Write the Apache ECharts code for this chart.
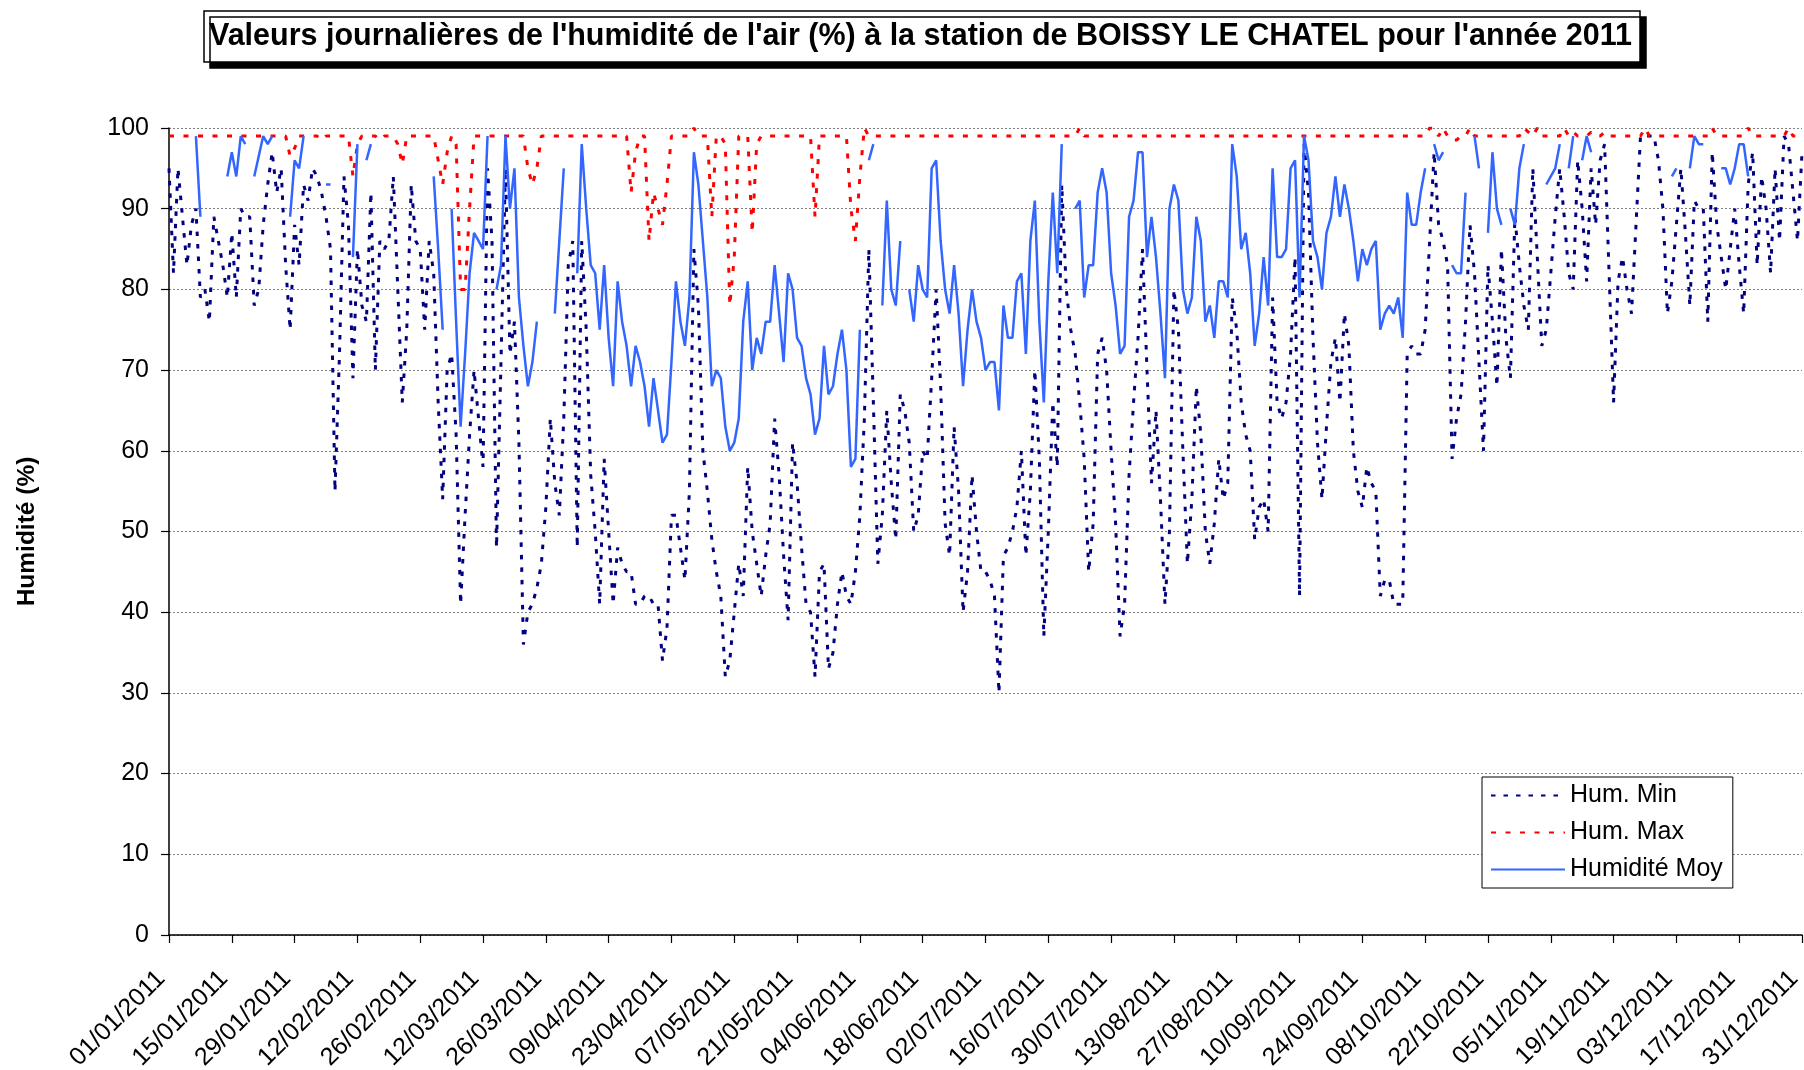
<!DOCTYPE html>
<html>
<head>
<meta charset="utf-8">
<script src="https://cdn.jsdelivr.net/npm/echarts@6/dist/echarts.min.js"></script>
<style>
html,body{margin:0;padding:0;background:#fff;overflow:hidden;}
#chart{width:1804px;height:1070px;}
</style>
</head>
<body>
<div id="chart"></div>
<script>
var n = null;
var titleText = "Valeurs journalières de l'humidité de l'air (%) à la station de BOISSY LE CHATEL pour l'année 2011";
var seriesNames = ['Hum. Min', 'Hum. Max', 'Humidité Moy'];
var tickLabels = ['01/01/2011','15/01/2011','29/01/2011','12/02/2011','26/02/2011','12/03/2011','26/03/2011','09/04/2011','23/04/2011','07/05/2011','21/05/2011','04/06/2011','18/06/2011','02/07/2011','16/07/2011','30/07/2011','13/08/2011','27/08/2011','10/09/2011','24/09/2011','08/10/2011','22/10/2011','05/11/2011','19/11/2011','03/12/2011','17/12/2011','31/12/2011'];

var humMin = [
95,82,95,89,83,88,90,79,80,76,
89,86,83,79,87,79,90,89,89,78,
80,88,93,97,92,95,83,75,88,83,
93,91,95,94,92,89,85,55,72,94,
88,69,85,78,76,92,70,86,85,86,
94,80,66,75,93,86,85,75,86,82,
66,54,70,72,62,41,52,62,70,64,
58,95,86,48,71,95,72,76,61,36,
40,41,43,46,53,64,56,52,64,83,
86,48,86,75,57,50,41,59,50,41,
48,46,45,45,41,41,42,42,41,41,
34,38,52,52,48,44,55,85,78,60,
55,49,45,42,32,34,40,46,42,58,
50,46,42,47,51,64,57,47,39,61,
56,48,41,40,32,45,46,33,35,41,
45,42,41,45,52,64,85,66,46,52,
65,56,49,67,65,61,50,52,60,59,
69,80,68,51,47,63,55,40,45,57,
50,45,45,44,42,30,47,48,50,53,
60,47,55,70,59,37,50,66,58,93,
80,75,72,66,59,45,51,72,74,70,
60,51,37,41,57,66,74,85,70,56,
65,54,41,50,80,75,60,46,54,68,
62,50,46,51,59,54,56,79,75,66,
62,60,49,53,54,50,79,66,64,66,
72,84,42,98,92,74,61,54,63,71,
74,66,77,73,60,55,53,58,56,55,
42,44,44,41,41,41,72,73,72,72,
75,86,97,88,86,83,59,64,67,76,
88,82,71,60,83,76,68,85,74,69,
89,83,78,75,95,84,73,75,82,89,
95,89,82,80,96,90,81,95,88,96,
98,82,66,81,84,80,77,88,99,99,
99,99,96,90,77,81,88,95,87,78,
91,90,90,76,97,88,84,80,85,90,
83,77,93,97,83,94,90,82,95,86,
99,98,92,86,97
];

var humMax = [
99,99,99,99,99,99,99,99,99,99,
99,99,99,99,99,99,99,99,99,99,
99,99,99,99,99,99,99,96.5,97.5,99,
99,99,99,99,98.5,99,99,99,99,99,
99,94,98,99,99,99,99,98.5,99,99,
99,98,95.5,99,99,99,99,99,99,99,
96,93,97,99,98,80,80,90,99,99,
99,99,99,99,99,99,99,99,99,99,
95,93,95,99,99,99,99,99,99,99,
99,99,99,99,99,99,99,99,99,99,
99,99,99,92,97,99,99,86,92,90,
88,93,99,99,99,99,99,100,99,99,
99,89,99,99,98,78,84,99,99,99,
87,98,99,99,99,99,99,99,99,99,
99,99,99,99,89,99,99,99,99,99,
99,99,90,86,94,100,99,99,99,99,
99,99,99,99,99,99,99,99,99,99,
99,99,99,99,99,99,99,99,99,99,
99,99,99,99,99,99,99,99,99,99,
99,99,99,99,99,99,99,99,99,99,
99,99,99,100,99,99,99,99,99,99,
99,99,99,99,99,99,99,99,99,99,
99,99,99,99,99,99,99,99,99,99,
99,99,99,99,99,99,99,99,99,99,
99,99,99,99,99,99,99,99,99,99,
99,99,99,99,99,99,99,99,99,99,
99,99,99,99,99,99,99,99,99,99,
99,99,99,99,99,99,99,99,99,99,
99,100,100,99,100,99,98.5,98.5,99,99,
100,99,99,99,99,99,99,99,99,99,
99,99,100,99.5,99,100,99,99,99,99,
99,100,99,99.5,99,99,99,99.5,99,99,
99.5,99,99,99,99,99,99,99,99,100,
99,99,99,99,99,99,99,99,99,99,
99,99,99,99,100,99,99,99,99,99,
99,99,100,99,99,99,99,99,99,99,
99,100,99,99,99
];

var humMoy = [
n,n,n,n,n,n,99,89,n,n,
n,n,n,94,97,94,99,98,n,94,
96.5,99,98,99,n,n,n,89,96,95,
99,n,n,n,n,93,93,n,n,n,
n,84,98,n,96,98,n,n,n,n,
n,n,n,n,n,n,n,n,n,94,
85,75,n,90,76,63,72,82,87,86,
85,99,n,80,83,99,90,95,79,73,
68,71,76,n,n,n,77,86,95,n,
n,82,98,90,83,82,75,83,74,68,
81,76,73,68,73,71,68,63,69,65,
61,62,71,81,76,73,79,97,93,86,
79,68,70,69,63,60,61,64,76,81,
70,74,72,76,76,83,77,71,82,80,
74,73,69,67,62,64,73,67,68,72,
75,70,58,59,75,n,96,98,n,78,
91,80,78,86,n,80,76,83,80,79,
95,96,86,80,77,83,77,68,75,80,
76,74,70,71,71,65,78,74,74,81,
82,72,86,91,76,66,81,92,82,98,
n,n,90,91,79,83,83,92,95,92,
82,78,72,73,89,91,97,97,84,89,
84,77,69,90,93,91,80,77,79,89,
86,76,78,74,81,81,79,98,94,85,
87,82,73,77,84,78,95,84,84,85,
95,96,79,99,96,86,84,80,87,89,
94,89,93,90,86,81,85,83,85,86,
75,77,78,77,79,74,92,88,88,92,
95,n,98,96,97,n,83,82,82,92,
n,99,95,n,87,97,90,88,n,90,
88,95,98,n,n,n,n,93,94,95,
98,n,95,99,n,96,99,97,n,n,
n,n,n,n,n,n,n,n,n,n,
n,n,n,n,n,94,95,n,n,95,
99,98,98,n,n,n,95,95,93,95,
98,98,94,n,n,n,n,n,n,n,
n,n,n,n,n
];

// daily categories of the year 2011
var days = [];
(function(){
  var t0 = Date.UTC(2011,0,1);
  for (var i = 0; i < humMin.length; i++) {
    var d = new Date(t0 + i*86400000);
    var dd = ('0'+d.getUTCDate()).slice(-2), mm = ('0'+(d.getUTCMonth()+1)).slice(-2);
    days.push(dd+'/'+mm+'/'+d.getUTCFullYear());
  }
})();

var FONT = "'Liberation Sans', Arial, Helvetica, sans-serif";
var chart = echarts.init(document.getElementById('chart'), null, {renderer:'canvas'});
chart.setOption({
  animation: false,
  backgroundColor: '#ffffff',
  textStyle: { fontFamily: FONT },
  title: {
    text: titleText,
    left: 204, top: 11,
    padding: [10, 8, 10, 5],
    backgroundColor: '#ffffff',
    borderColor: '#000000', borderWidth: 1.5,
    shadowColor: '#000000', shadowBlur: 0, shadowOffsetX: 6, shadowOffsetY: 6,
    textStyle: { fontSize: 30.5, fontWeight: 'bold', color: '#000000', fontFamily: FONT }
  },
  grid: { left: 169, right: 2, top: 128, bottom: 135, containLabel: false, outerBoundsMode: 'none' },
  legend: {
    orient: 'vertical', left: 1482, top: 777,
    padding: [6, 10, 6, 8],
    itemGap: 12, itemWidth: 74, itemHeight: 14,
    borderColor: '#000000', borderWidth: 1, backgroundColor: '#ffffff',
    itemStyle: { opacity: 0 },
    textStyle: { fontSize: 25, color: '#000000', fontFamily: FONT },
    data: seriesNames
  },
  xAxis: {
    type: 'category', data: days, boundaryGap: false,
    axisLine: { lineStyle: { color: '#000000', width: 1.5 } },
    axisTick: { show: true, interval: 13, length: 8, lineStyle: { color: '#000000', width: 1.2 } },
    axisLabel: {
      interval: 13, rotate: 45, fontSize: 25, color: '#000000', margin: 32, fontFamily: FONT,
      padding: [0, 11, 0, 0],
      formatter: function(v){ return tickLabels.indexOf(v) >= 0 ? v : ''; }
    },
    splitLine: { show: false }
  },
  yAxis: {
    type: 'value', min: 0, max: 100, interval: 10,
    name: 'Humidité (%)', nameLocation: 'middle', nameRotate: 90, nameGap: 129,
    nameTextStyle: { fontSize: 24.5, fontWeight: 'bold', color: '#000000', fontFamily: FONT },
    axisLine: { show: true, lineStyle: { color: '#000000', width: 1.5 } },
    axisTick: { show: true, length: 8, lineStyle: { color: '#000000', width: 1.2 } },
    axisLabel: { fontSize: 25, color: '#000000', margin: 20, fontFamily: FONT },
    splitLine: { show: true, lineStyle: { color: '#808080', width: 1, type: [2, 2] } }
  },
  series: [
    { name: seriesNames[0], type: 'line', data: humMin, symbol: 'none', showSymbol: false,
      connectNulls: false,
      itemStyle: { color: '#000080' },
      lineStyle: { color: '#000080', width: 3, type: [4.5, 8] } },
    { name: seriesNames[1], type: 'line', data: humMax, symbol: 'none', showSymbol: false,
      connectNulls: false,
      itemStyle: { color: '#ff0000' },
      lineStyle: { color: '#ff0000', width: 3, type: [5, 9.5] } },
    { name: seriesNames[2], type: 'line', data: humMoy, symbol: 'none', showSymbol: false,
      connectNulls: false,
      itemStyle: { color: '#3366ff' },
      lineStyle: { color: '#3366ff', width: 2.5, type: 'solid' } }
  ]
});
</script>
</body>
</html>
